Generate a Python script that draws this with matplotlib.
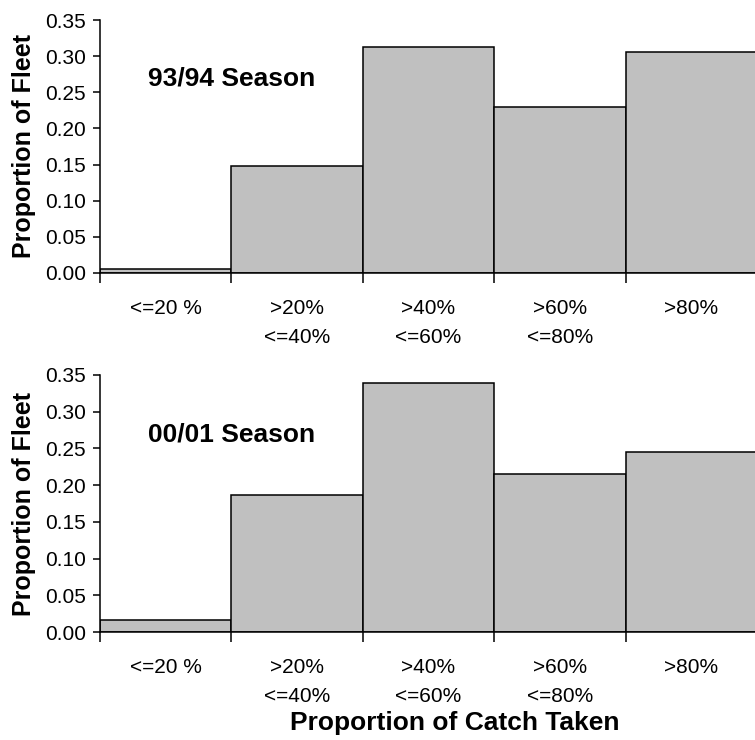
import matplotlib
matplotlib.use("Agg")
import matplotlib.pyplot as plt
import numpy as np

categories = ["<=20 %", ">20%\n<=40%", ">40%\n<=60%", ">60%\n<=80%", ">80%"]
season_1994 = [0.005, 0.148, 0.313, 0.229, 0.306]
season_2001 = [0.017, 0.186, 0.339, 0.215, 0.245]
titles = ["93/94 Season", "00/01 Season"]
yticks = [0.00, 0.05, 0.10, 0.15, 0.20, 0.25, 0.30, 0.35]

plt.rcParams['font.family'] = ['Liberation Sans', 'DejaVu Sans']

fig = plt.figure(figsize=(7.55, 7.4), dpi=100)
ax1 = fig.add_axes([100/755, 1-273/740, 657/755, 253/740])
ax2 = fig.add_axes([100/755, 1-632/740, 657/755, 257/740])

for ax, vals, title in [(ax1, season_1994, titles[0]), (ax2, season_2001, titles[1])]:
    x = np.arange(len(categories))
    ax.bar(x, vals, width=1.0, align='edge', color='#c0c0c0', edgecolor='black', linewidth=1.1)
    ax.set_xlim(0, len(categories))
    ax.set_ylim(0, 0.35)
    ax.set_yticks(yticks)
    ax.set_yticklabels([f"{v:.2f}" for v in yticks], fontsize=15)
    ax.set_xticks(np.arange(len(categories) + 1))
    ax.set_xticklabels([])
    ax.set_xticks(x + 0.5, minor=True)
    ax.set_xticklabels(categories, minor=True, fontsize=15, linespacing=1.62)
    ax.tick_params(axis='x', which='major', direction='out', length=7, width=1.1)
    ax.tick_params(axis='x', which='minor', length=0, pad=19)
    ax.tick_params(axis='y', direction='out', length=5, width=1.1, pad=5)
    for s in ['top', 'right']:
        ax.spines[s].set_visible(False)
    for s in ['left', 'bottom']:
        ax.spines[s].set_linewidth(1.1)
    ax.set_ylabel("Proportion of Fleet", fontsize=18, fontweight='bold')
    ax.yaxis.set_label_coords(-0.097, 0.5)
    ax.text(0.2, 0.77, title, transform=ax.transAxes, fontsize=19, fontweight='bold',
            ha='center', va='center')

fig.text(455/755, 1-723/740, "Proportion of Catch Taken", fontsize=19, fontweight='bold',
         ha='center', va='center')

fig.savefig("out.png", dpi=100)
